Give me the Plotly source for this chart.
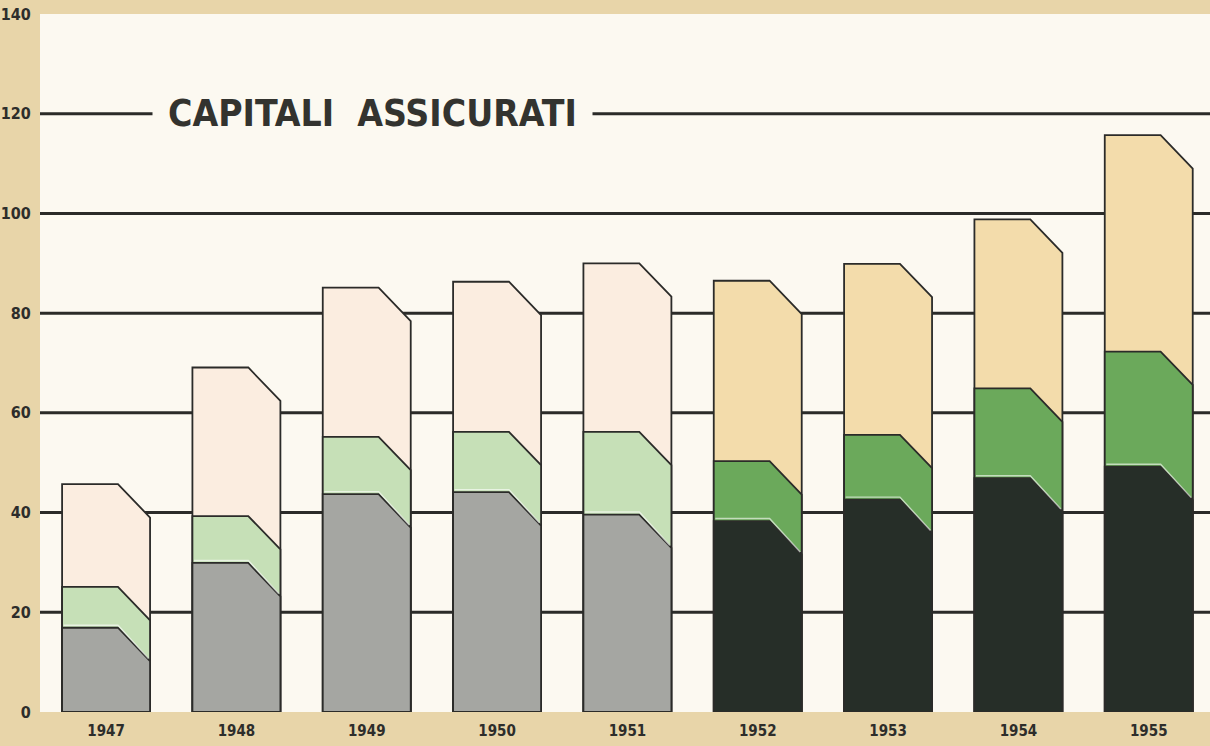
import plotly.graph_objects as go

# ---------------- data ----------------
years = [1947, 1948, 1949, 1950, 1951, 1952, 1953, 1954, 1955]
base_part = [16.9, 29.9, 43.7, 44.1, 39.6, 38.3, 42.6, 46.9, 49.2]     # grey / dark layer
middle_part = [8.2, 9.4, 11.5, 12.1, 16.6, 12.0, 13.0, 18.0, 23.1]    # green layer
upper_part = [20.6, 29.8, 29.9, 30.1, 33.8, 36.2, 34.3, 33.9, 43.4]   # cream / tan layer
y_ticks = [0, 20, 40, 60, 80, 100, 120, 140]
grid_values = [20, 40, 60, 80, 100, 120]
title_text = "CAPITALI  ASSICURATI"

# ---------------- style ----------------
PAPER = "#e8d5a9"
PLOT_BG = "#fcf9f1"
INK = "#2b2b29"
FONT = "DejaVu Sans Condensed, Roboto, sans-serif"
OLD = {"upper": "#fbede0", "middle": "#c6e0b7", "base": "#a5a6a2"}
NEW = {"upper": "#f3dcab", "middle": "#6ba95b", "base": "#262e28"}
BAR_W = 0.675          # bar width in category units
FLAT = 0.635           # share of bar width that stays flat before the bevel
DROP = 6.7             # vertical drop of the bevel (value units)
GLINT = 0.5            # offset of the light highlight above the lower seam

cum1 = [b for b in base_part]
cum2 = [b + m for b, m in zip(base_part, middle_part)]
cum3 = [b + m + u for b, m, u in zip(base_part, middle_part, upper_part)]


def polygon(i, h):
    xl = i - BAR_W / 2
    xr = i + BAR_W / 2
    xs = xl + BAR_W * FLAT
    return [xl, xl, xs, xr, xr, xl, None], [0, h, h, h - DROP, 0, 0, None]


def seam(i, h):
    xl = i - BAR_W / 2
    xr = i + BAR_W / 2
    xs = xl + BAR_W * FLAT
    return [xl + 0.012, xs, xr - 0.012, None], [h + GLINT, h + GLINT, h - DROP + GLINT, None]


fig = go.Figure()
layers = [("upper", cum3), ("middle", cum2), ("base", cum1)]
for name, heights in layers:
    for pal, sel in ((OLD, lambda y: y < 1952), (NEW, lambda y: y >= 1952)):
        xs, ys, gx, gy = [], [], [], []
        for i, (yr, h) in enumerate(zip(years, heights)):
            if sel(yr):
                a, b = polygon(i, h)
                xs += a
                ys += b
                c, d = seam(i, h)
                gx += c
                gy += d
        fig.add_trace(go.Scatter(
            x=xs, y=ys, mode="lines", fill="toself",
            fillcolor=pal[name],
            line=dict(color=INK, width=1.8),
            hoverinfo="skip", showlegend=False,
        ))
        if name == "base":
            fig.add_trace(go.Scatter(
                x=gx, y=gy, mode="lines",
                line=dict(color="rgba(255,255,255,0.6)", width=1.4),
                hoverinfo="skip", showlegend=False,
            ))

# horizontal rules
for v in grid_values:
    fig.add_shape(type="line", xref="paper", x0=0, x1=1, yref="y", y0=v, y1=v,
                  line=dict(color=INK, width=3), layer="below")

fig.add_annotation(
    text=title_text, xref="paper", yref="y", x=0.2838, y=120,
    xanchor="center", yanchor="middle",
    showarrow=False, bgcolor=PLOT_BG, borderpad=15,
    font=dict(family=FONT, size=37, color="#33332f", weight="bold"),
)

fig.update_layout(
    width=1210, height=746,
    margin=dict(l=40, r=0, t=14, b=34),
    paper_bgcolor=PAPER, plot_bgcolor=PLOT_BG,
    xaxis=dict(
        range=[-0.507, 8.47], tickvals=list(range(len(years))),
        ticktext=[str(y) for y in years], showgrid=False, zeroline=False,
        showline=False, ticks="outside", ticklen=5, tickcolor="rgba(0,0,0,0)",
        automargin=False,
        tickfont=dict(family=FONT, size=15, color="#2d2d2b", weight="bold"),
    ),
    yaxis=dict(
        range=[0, 140], tickvals=y_ticks, ticktext=[str(v) for v in y_ticks],
        showgrid=False, zeroline=False, showline=False,
        ticks="outside", ticklen=5, tickcolor="rgba(0,0,0,0)",
        automargin=False,
        tickfont=dict(family=FONT, size=16, color="#2d2d2b", weight="bold"),
    ),
)

fig.write_html(
    "out.html",
    config={"displayModeBar": False},
    post_script=(
        "document.body.style.margin='0';"
        "document.body.style.overflow='hidden';"
        "document.body.style.background='" + PAPER + "';"
    ),
)
